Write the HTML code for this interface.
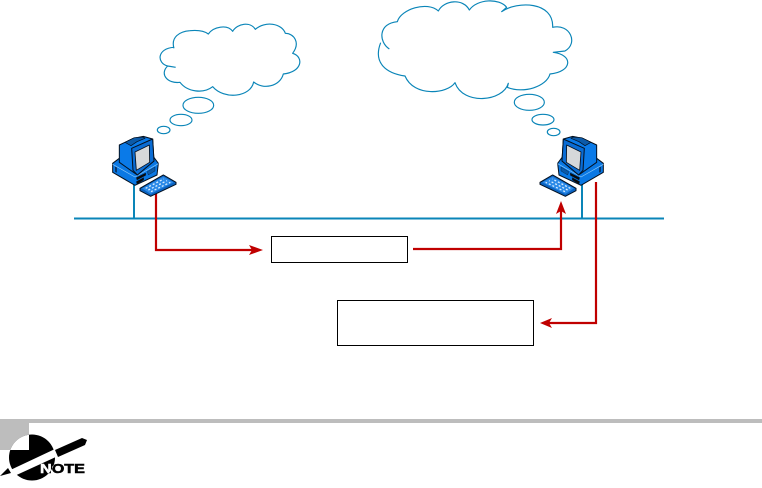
<!DOCTYPE html>
<html><head><meta charset="utf-8"><style>
html,body{margin:0;padding:0;background:#fff}
svg{display:block}
</style></head><body>
<svg width="762" height="488" viewBox="0 0 762 488" xmlns="http://www.w3.org/2000/svg">
<defs>
<g id="pc" stroke="#04101f" stroke-width="3" stroke-linejoin="round">
  <path d="M23,115 L43,100 L146,96 L160,115 L156,150 L90,181 L23,142 Z" fill="#0a78e4"/>
  <path d="M23,118 L90,156 L160,116" fill="none" stroke="#8cc8f8" stroke-width="2"/>
  <path d="M43,60 L85,40 L115,34 L143,42 L147,108 L97,150 L43,112 Z" fill="#0a7ae8"/>
  <path d="M60,52 L88,38 L114,36 L120,40 L96,50 L78,62 Z" fill="#0c5aa8" stroke-width="2"/>
  <path d="M80,70 L143,42 L147,108 L97,150 L84,136 Z" fill="#0a6cd4"/>
  <path d="M90,81 L133,60 L134,112 L94,136 Z" fill="#d6d8da" stroke-width="2.5"/>
  <path d="M94,158 L122,144 L122,151 L96,165 Z M94,170 L116,158 L116,165 L96,177 Z" fill="#0a0a0a" stroke-width="1"/>
  <path d="M127,140 L150,126 L150,138 L130,150 Z" fill="#0c5aa8" stroke-width="1"/>
  <path d="M31,126 L35,128 L35,142 L31,140 Z" fill="#0a4080" stroke-width="1"/>
  <path d="M105,190 L175,150 L213,172 L213,178 L137,214 L105,197 Z" fill="#0a62c0" stroke-width="3"/>
  <path d="M111,190 L175,155 L206,172 L137,207 Z" fill="#2b8ae8" stroke="none"/>
  <g stroke="#d8ecff" stroke-width="4" stroke-dasharray="6 6" fill="none">
    <path d="M122,190 L176,162"/>
    <path d="M130,195 L186,167"/>
    <path d="M138,200 L196,172"/>
  </g>
</g>
<clipPath id="circ"><circle cx="32" cy="457.5" r="23"/></clipPath>
</defs>

<rect width="762" height="488" fill="#fff"/>

<!-- Left cloud -->
<g transform="translate(100,0) scale(0.3333)" fill="#fff" stroke="#0a85b8" stroke-width="3.5" stroke-linejoin="round">
  <path d="M222,145 C212,112 238,94 270,92 C292,90 312,92 325,102 C340,80 382,72 398,94 C412,70 452,64 466,88 C495,62 546,70 556,100 C582,100 602,128 578,160 C612,170 608,216 550,222 C540,260 490,270 461,246 C452,292 372,300 338,260 C310,282 262,276 240,247 C202,252 178,222 203,198 L227,202 M203,198 C170,190 170,145 222,142"/>
  <ellipse cx="295" cy="316" rx="46" ry="24"/>
  <ellipse cx="243" cy="360" rx="33" ry="17"/>
  <ellipse cx="191" cy="390" rx="19" ry="11"/>
</g>

<!-- Right cloud -->
<g transform="translate(370,0) scale(0.3333)" fill="#fff" stroke="#0a85b8" stroke-width="3.5" stroke-linejoin="round">
  <path d="M58,147 C25,125 25,70 82,65 C92,28 172,2 205,33 C222,0 280,-6 298,30 C322,-4 388,-6 410,22 L395,35 C442,2 552,4 548,82 C600,70 626,130 585,153 L550,157 C612,165 606,216 540,222 C530,260 460,282 412,262 L415,250 C400,304 280,318 255,248 C232,282 132,292 105,228 C50,220 8,190 32,128"/>
  <ellipse cx="478" cy="307" rx="45" ry="24"/>
  <ellipse cx="519" cy="359" rx="33" ry="16"/>
  <ellipse cx="551" cy="396" rx="19" ry="11"/>
</g>

<!-- Network lines -->
<g stroke="#0a85b8" stroke-width="2" fill="none">
  <path d="M74,218.5 H664"/>
  <path d="M134,184 V218"/>
  <path d="M582,184 V218"/>
</g>

<!-- Red connectors -->
<g stroke="#c00000" stroke-width="2.2" fill="none">
  <path d="M156,194 V250 H252"/>
  <path d="M413,249 H561 V209"/>
  <path d="M596,182 V323 H548"/>
</g>
<g fill="#c00000">
  <path d="M263,250 L249,245 L252,250 L249,255 Z"/>
  <path d="M561,201 L556,214 L561,211 L566,214 Z"/>
  <path d="M540,323 L552,318 L549,323 L552,328 Z"/>
</g>

<!-- Computers -->
<use href="#pc" transform="translate(105,125) scale(0.3333)"/>
<use href="#pc" transform="translate(535,125) scale(0.3333) translate(228,0) scale(-1,1)"/>

<!-- Boxes -->
<rect x="271.5" y="236.5" width="136" height="26" fill="#fff" stroke="#000" stroke-width="1"/>
<rect x="337.5" y="300.5" width="196" height="45" fill="#fff" stroke="#000" stroke-width="1"/>

<!-- Note bar -->
<rect x="0" y="419" width="762" height="4" fill="#bdbdbd"/>
<rect x="0" y="419" width="29" height="31" fill="#bdbdbd"/>

<!-- Note icon -->
<circle cx="32" cy="457.5" r="23" fill="#000"/>
<rect x="0" y="430" width="29" height="20" fill="#fff" clip-path="url(#circ)"/>
<path d="M4,473 L55,449 L58,456 L10,478 Z" fill="#fff"/>
<path d="M0,476 L8,468 L11,473 Z" fill="#000"/>
<path d="M55,450 L82,438 L87,440 L85,445 L58,457 Z" fill="#000"/>
<text x="40" y="473" font-family="'Liberation Sans',sans-serif" font-weight="bold" font-size="12.5" textLength="45" lengthAdjust="spacingAndGlyphs" fill="#000" stroke="#000" stroke-width="0.5">NOTE</text>
<text x="40" y="473" font-family="'Liberation Sans',sans-serif" font-weight="bold" font-size="12.5" textLength="45" lengthAdjust="spacingAndGlyphs" fill="#fff" stroke="#fff" stroke-width="0.5" clip-path="url(#circ)">NOTE</text>
</svg>
</body></html>
